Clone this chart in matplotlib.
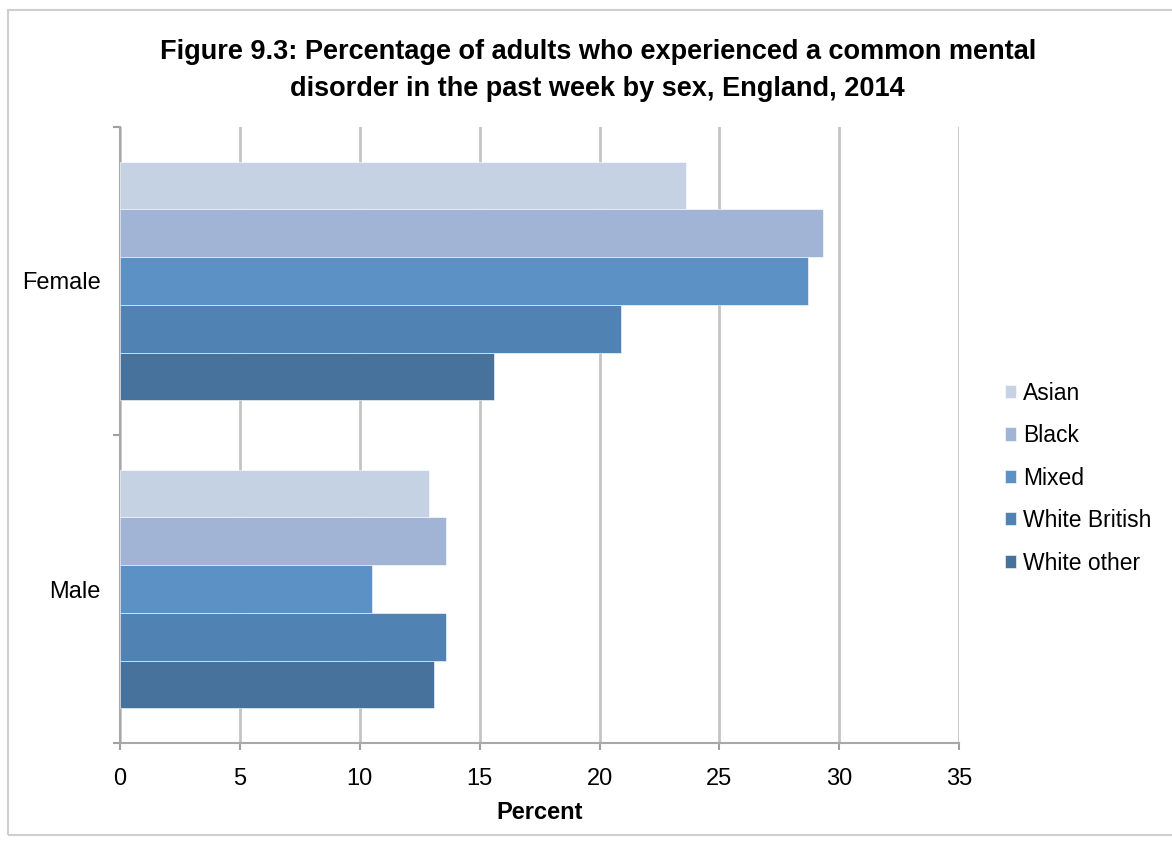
import numpy as np
import matplotlib.pyplot as plt
from matplotlib.patches import Rectangle

sexes = ['Female', 'Male']
groups = ['Asian', 'Black', 'Mixed', 'White British', 'White other']
female = [23.6, 29.3, 28.7, 20.9, 15.6]
male = [12.9, 13.6, 10.5, 13.6, 13.1]
colours = ['#C5D2E3', '#A2B4D6', '#5B91C4', '#5083B4', '#46729C']

plt.rcParams['font.family'] = ['Liberation Sans', 'DejaVu Sans']

fig = plt.figure(figsize=(11.72, 8.43), dpi=100)
ax = fig.add_axes([0.1024, 0.1186, 0.7160, 0.7308])

# light frame round the whole chart
fig.patches.append(Rectangle((0.007, 0.01), 1.2, 0.978, transform=fig.transFigure,
                             fill=False, edgecolor='#CFCFCF', linewidth=1.5))

y = np.arange(len(sexes))
h = 0.155
values = np.array([female, male])
for i, g in enumerate(groups):
    ax.barh(y + (i - 2) * h, values[:, i], height=h, color=colours[i],
            edgecolor='white', linewidth=0.4, label=g, zorder=3)

ax.set_xlim(0, 35)
ax.set_ylim(1.5, -0.5)
ax.set_xticks(range(0, 36, 5))
ax.set_yticks(y)
ax.set_yticklabels(sexes)
ax.set_yticks([-0.5, 0.5, 1.5], minor=True)
ax.tick_params(axis='y', which='major', length=0, pad=14, labelsize=17)
ax.tick_params(axis='y', which='minor', length=5, color='#A0A0A0', width=1.5)
ax.tick_params(axis='x', length=5, color='#A0A0A0', width=1.5, labelsize=17, pad=13)

ax.grid(axis='x', color='#C4C4C4', linewidth=2, zorder=0)
for s in ['top', 'right']:
    ax.spines[s].set_visible(False)
for s in ['left', 'bottom']:
    ax.spines[s].set_color('#A8A8A8')
    ax.spines[s].set_linewidth(1.5)

ax.set_xlabel('Percent', fontsize=17, fontweight='bold', labelpad=8)
fig.suptitle('Figure 9.3: Percentage of adults who experienced a common mental\n'
             'disorder in the past week by sex, England, 2014',
             fontsize=19.5, fontweight='bold', x=0.51, y=0.954, linespacing=1.55)

ax.legend(loc='center left', bbox_to_anchor=(1.03, 0.43), frameon=False,
          fontsize=16.5, handlelength=0.5, handleheight=0.5, handletextpad=0.3,
          labelspacing=0.85)

fig.savefig('out.png', dpi=100)
